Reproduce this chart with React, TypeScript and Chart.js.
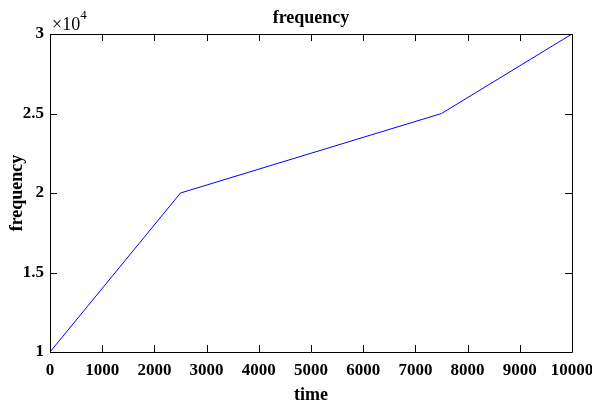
import React, { useEffect, useRef } from "react";
import { Chart, registerables } from "chart.js";

Chart.register(...registerables);

const timeValues = [0, 2500, 7500, 10000];
const frequencyValues = [10000, 20000, 25000, 30000];
const xTicks = [0, 1000, 2000, 3000, 4000, 5000, 6000, 7000, 8000, 9000, 10000];
const yTicks = [10000, 15000, 20000, 25000, 30000];
const yTickLabels = ["1", "1.5", "2", "2.5", "3"];
const titleText = "frequency";
const xLabel = "time";
const yLabel = "frequency";

const FONT = '"Liberation Serif", "Times New Roman", serif';

const decorPlugin = {
  id: "decor",
  afterDatasetsDraw(chart: any) {
    const { ctx, chartArea } = chart;
    const { left, right, top, bottom } = chartArea;
    const xs = chart.scales.x;
    const ys = chart.scales.y;
    ctx.save();
    ctx.strokeStyle = "#000";
    ctx.lineWidth = 1;
    ctx.beginPath();
    const L = 7;
    xTicks.forEach((v) => {
      const px = Math.round(xs.getPixelForValue(v)) + 0.5;
      ctx.moveTo(px, bottom);
      ctx.lineTo(px, bottom - L);
      ctx.moveTo(px, top);
      ctx.lineTo(px, top + L);
    });
    yTicks.forEach((v) => {
      const py = Math.round(ys.getPixelForValue(v)) + 0.5;
      ctx.moveTo(left, py);
      ctx.lineTo(left + L, py);
      ctx.moveTo(right, py);
      ctx.lineTo(right - L, py);
    });
    ctx.stroke();
    ctx.beginPath();
    ctx.rect(Math.round(left) + 0.5, Math.round(top) + 0.5, Math.round(right - left), Math.round(bottom - top));
    ctx.stroke();

    ctx.fillStyle = "#000";
    ctx.textAlign = "center";
    ctx.textBaseline = "middle";
    ctx.font = "bold 18px " + FONT;
    const cx = (left + right) / 2;
    ctx.fillText(titleText, cx, 18);
    ctx.fillText(xLabel, cx, 395);
    ctx.save();
    ctx.translate(17, (top + bottom) / 2);
    ctx.rotate(-Math.PI / 2);
    ctx.fillText(yLabel, 0, 0);
    ctx.restore();

    ctx.textAlign = "left";
    ctx.textBaseline = "alphabetic";
    ctx.font = "18px " + FONT;
    ctx.fillText("\u00d710", 52, 30);
    const w = ctx.measureText("\u00d710").width;
    ctx.font = "13px " + FONT;
    ctx.fillText("4", 52 + w, 19);
    ctx.restore();
  },
};

export default function App() {
  const ref = useRef<HTMLCanvasElement | null>(null);
  useEffect(() => {
    document.body.style.margin = "0";
    const chart = new Chart(ref.current as HTMLCanvasElement, {
      type: "line",
      data: {
        datasets: [
          {
            data: timeValues.map((t, i) => ({ x: t, y: frequencyValues[i] })),
            borderColor: "#0000ff",
            borderWidth: 1,
            pointRadius: 0,
            fill: false,
            tension: 0,
          },
        ],
      },
      options: {
        animation: false,
        responsive: false,
        maintainAspectRatio: false,
        layout: { padding: { left: 0, right: 20, top: 34, bottom: 0 } },
        plugins: { legend: { display: false }, tooltip: { enabled: false }, title: { display: false } },
        scales: {
          x: {
            type: "linear",
            min: 0,
            max: 10000,
            afterFit: (s: any) => {
              s.height = 55;
              s.paddingLeft = 0;
              s.paddingRight = 0;
            },
            afterBuildTicks: (s: any) => {
              s.ticks = xTicks.map((v) => ({ value: v }));
            },
            grid: { display: false, drawTicks: false },
            border: { display: false },
            ticks: {
              padding: 8,
              color: "#000",
              font: { family: FONT, size: 17, weight: "bold" },
              maxRotation: 0,
              autoSkip: false,
              callback: (v: any) => String(v),
            },
          },
          y: {
            type: "linear",
            min: 10000,
            max: 30000,
            afterFit: (s: any) => {
              s.width = 50;
              s.paddingTop = 0;
              s.paddingBottom = 0;
            },
            afterBuildTicks: (s: any) => {
              s.ticks = yTicks.map((v) => ({ value: v }));
            },
            grid: { display: false, drawTicks: false },
            border: { display: false },
            ticks: {
              padding: 6,
              color: "#000",
              font: { family: FONT, size: 17, weight: "bold" },
              autoSkip: false,
              callback: (v: any) => {
                const i = yTicks.indexOf(Number(v));
                return i >= 0 ? yTickLabels[i] : "";
              },
            },
          },
        },
      },
      plugins: [decorPlugin],
    } as any);
    return () => chart.destroy();
  }, []);
  return (
    <div style={{ position: "absolute", left: 0, top: 0, width: 592, height: 407, background: "#fff" }}>
      <canvas ref={ref} width={592} height={407} style={{ width: 592, height: 407 }} />
    </div>
  );
}
